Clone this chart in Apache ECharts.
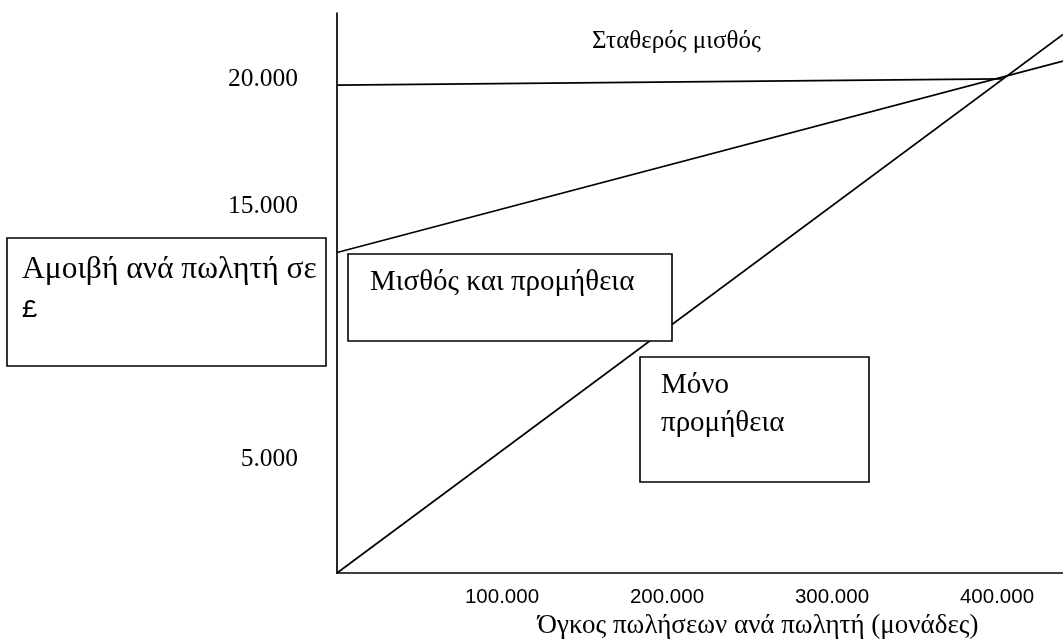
<!DOCTYPE html>
<html>
<head>
<meta charset="utf-8">
<script src="https://cdn.jsdelivr.net/npm/echarts@6/dist/echarts.min.js"></script>
<style>
    html, body { margin: 0; padding: 0; background: #fff; }
    #chart { width: 1063px; height: 641px; }
</style>
</head>
<body>
<div id="chart"></div>
<script>
// άξονας x: όγκος πωλήσεων (μονάδες)
var xTickValues = [100000, 200000, 300000, 400000]
var xTickLabels = ['100.000', '200.000', '300.000', '400.000']
// άξονας y: αμοιβή (£) - το 10.000 κρύβεται πίσω από το πλαίσιο
var yTickValues = [5000, 15000, 20000]
var yTickLabels = ['5.000', '15.000', '20.000']

// οι τρεις γραμμές [όγκος, αμοιβή]
var fixedSalary = [[0, 19250], [403000, 19500]]
var salaryCommission = [[0, 12650], [440000, 20200]]
var commissionOnly = [[0, 0], [440000, 21250]]

var seriesNames = ['Σταθερός μισθός', 'Μισθός και προμήθεια', 'Μόνο προμήθεια']
var yTitle = 'Αμοιβή ανά πωλητή σε'
var xTitle = 'Όγκος πωλήσεων ανά πωλητή (μονάδες)'

var serif = 'Liberation Serif'
var chart = echarts.init(document.getElementById('chart'))

function lineSeries(name, data) {
    return {
        type: 'line',
        name: name,
        data: data,
        showSymbol: false,
        silent: true,
        lineStyle: { color: '#000', width: 1.7 }
    }
}

function box(x, y, w, h) {
    return {
        type: 'rect',
        z: 100,
        shape: { x: x, y: y, width: w, height: h },
        style: { fill: '#fff', stroke: '#000', lineWidth: 1.6 }
    }
}

var option = {
    animation: false,
    backgroundColor: '#fff',
    grid: { left: 337, right: 0, top: 13, bottom: 68, outerBoundsMode: 'none' },
    xAxis: {
        type: 'value',
        min: 0,
        max: 440000,
        interval: 100000,
        name: xTitle,
        nameLocation: 'middle',
        nameGap: 37,
        nameTextStyle: { fontFamily: serif, fontSize: 27, color: '#000', padding: [0, 0, 0, 116] },
        axisLine: { show: true, onZero: false, lineStyle: { color: '#000', width: 1.7 } },
        axisTick: { show: false },
        splitLine: { show: false },
        axisLabel: {
            margin: 14,
            fontFamily: 'Liberation Sans',
            fontSize: 20.5,
            color: '#000',
            formatter: function (v) {
                var i = xTickValues.indexOf(v)
                return i < 0 ? '' : xTickLabels[i]
            }
        }
    },
    yAxis: {
        type: 'value',
        min: 0,
        max: 22100,
        interval: 5000,
        axisLine: { show: true, lineStyle: { color: '#000', width: 1.7 } },
        axisTick: { show: false },
        splitLine: { show: false },
        axisLabel: {
            margin: 39,
            fontFamily: serif,
            fontSize: 25.5,
            color: '#000',
            verticalAlign: 'top',
            formatter: function (v) {
                var i = yTickValues.indexOf(v)
                return i < 0 ? '' : yTickLabels[i]
            }
        }
    },
    series: [
        lineSeries(seriesNames[0], fixedSalary),
        lineSeries(seriesNames[1], salaryCommission),
        lineSeries(seriesNames[2], commissionOnly)
    ],
    graphic: [
        // πλαίσιο τίτλου άξονα y
        box(7, 238, 319, 128),
        {
            type: 'text', z: 101, left: 22, top: 254,
            style: {
                text: '{a|' + yTitle + '}\n{b|£}',
                rich: {
                    a: { fontFamily: serif, fontSize: 31.5, lineHeight: 40, fill: '#000' },
                    b: { fontFamily: 'Liberation Mono', fontSize: 26, lineHeight: 40, fill: '#000' }
                }
            }
        },
        box(348, 254, 324, 87),
        {
            type: 'text', z: 101, left: 370, top: 268,
            style: { text: seriesNames[1], font: '29px "Liberation Serif"', fill: '#000' }
        },
        box(640, 357, 229, 125),
        {
            type: 'text', z: 101, left: 661, top: 366,
            style: { text: 'Μόνο\nπρομήθεια', font: '29px "Liberation Serif"', lineHeight: 38, fill: '#000' }
        },
        {
            type: 'text', z: 101, left: 592, top: 29,
            style: { text: seriesNames[0], font: '25px "Liberation Serif"', fill: '#000' }
        }
    ]
}
chart.setOption(option)
</script>
</body>
</html>
